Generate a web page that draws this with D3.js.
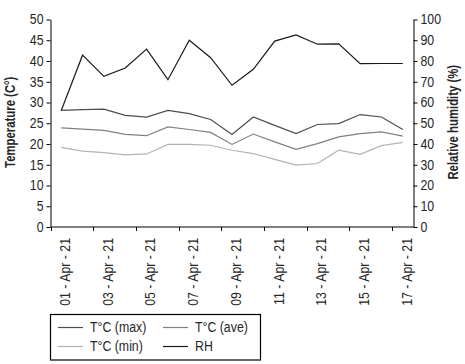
<!DOCTYPE html>
<html>
<head>
<meta charset="utf-8">
<script src="https://cdn.jsdelivr.net/npm/d3@7"></script>
<style>
  html, body { margin: 0; padding: 0; background: #fff; }
  svg text { font-family: "Liberation Sans", Arial, sans-serif; fill: #262626; }
</style>
</head>
<body>
<svg id="chart" width="465" height="364"></svg>
<script>
const dates = ["01 - Apr - 21","02 - Apr - 21","03 - Apr - 21","04 - Apr - 21","05 - Apr - 21","06 - Apr - 21",
  "07 - Apr - 21","08 - Apr - 21","09 - Apr - 21","10 - Apr - 21","11 - Apr - 21","12 - Apr - 21",
  "13 - Apr - 21","14 - Apr - 21","15 - Apr - 21","16 - Apr - 21","17 - Apr - 21"];
const tMax = [28.1, 28.3, 28.4, 26.9, 26.5, 28.1, 27.3, 25.9, 22.3, 26.5, 24.5, 22.5, 24.7, 24.9, 27.1, 26.5, 23.5];
const tAve = [23.9, 23.6, 23.3, 22.3, 22.0, 24.1, 23.5, 22.8, 19.9, 22.4, 20.5, 18.7, 20.1, 21.7, 22.5, 22.9, 21.9];
const tMin = [19.2, 18.3, 17.9, 17.4, 17.6, 19.9, 19.9, 19.7, 18.5, 17.7, 16.3, 14.9, 15.3, 18.5, 17.5, 19.6, 20.4];
const rh   = [56, 82.8, 72.6, 76.6, 85.7, 71, 90, 81.6, 68.3, 76, 89.6, 92.6, 88.1, 88.3, 78.7, 78.8, 78.8];
const tempTicks = [0, 5, 10, 15, 20, 25, 30, 35, 40, 45, 50];
const rhTicks = [0, 10, 20, 30, 40, 50, 60, 70, 80, 90, 100];
const seriesNames = ["T°C (max)", "T°C (ave)", "T°C (min)", "RH"];

(function () {
const svg = d3.select("#chart");
const pLeft = 50.5, pRight = 413.5, pTop = 19.5, pBottom = 227;

const x = d3.scaleBand().domain(dates).range([pLeft, pRight]).padding(0);
const yT = d3.scaleLinear().domain([0, 50]).range([pBottom, pTop]);
const yR = d3.scaleLinear().domain([0, 100]).range([pBottom, pTop]);
const cx = d => x(d) + x.bandwidth() / 2;

const fs = 14;

// Left axis
const gL = svg.append("g").attr("transform", `translate(${pLeft},0)`)
  .call(d3.axisLeft(yT).tickValues(tempTicks).tickSize(4).tickSizeOuter(0).tickPadding(3));
gL.selectAll("text").style("font-size", fs + "px").attr("fill", "#262626").classed("narrow", true);
gL.selectAll("line,path").attr("stroke", "#000");

// Right axis
const gR = svg.append("g").attr("transform", `translate(${pRight},0)`)
  .call(d3.axisRight(yR).tickValues(rhTicks).tickSize(4).tickSizeOuter(0).tickPadding(3));
gR.selectAll("text").style("font-size", fs + "px").attr("fill", "#262626").classed("narrow", true);
gR.selectAll("line,path").attr("stroke", "#000");

// Bottom axis
const gB = svg.append("g");
gB.append("line").attr("x1", pLeft).attr("x2", pRight).attr("y1", pBottom).attr("y2", pBottom).attr("stroke", "#000");
dates.forEach((d, i) => {
  if (i % 2 === 0) {
    gB.append("line").attr("x1", Math.round(x(d)) + 0.5).attr("x2", Math.round(x(d)) + 0.5)
      .attr("y1", pBottom).attr("y2", pBottom + 4).attr("stroke", "#000");
    gB.append("text").classed("narrow", true)
      .attr("transform", `translate(${cx(d) + 4},${pBottom + 11}) rotate(-90)`)
      .attr("text-anchor", "end").attr("dy", "0.35em")
      .style("font-size", fs + "px").attr("fill", "#262626")
      .text(d);
  }
});

// Axis titles
svg.append("text").classed("title", true).attr("transform", `translate(10,${(pTop + pBottom) / 2 - 1}) rotate(-90)`)
  .attr("text-anchor", "middle").attr("dy", "0.35em")
  .style("font-size", "14px").style("font-weight", "bold").text("Temperature (C°)");
svg.append("text").classed("title", true).attr("transform", `translate(453,${(pTop + pBottom) / 2 - 1}) rotate(-90)`)
  .attr("text-anchor", "middle").attr("dy", "0.35em")
  .style("font-size", "14px").style("font-weight", "bold").text("Relative humidity (%)");

// Lines
const colors = ["#4d4d4d", "#808080", "#b3b3b3", "#1a1a1a"];
const lineT = d3.line().x((v, i) => cx(dates[i])).y(v => yT(v));
const lineR = d3.line().x((v, i) => cx(dates[i])).y(v => yR(v));
[[tMin, 2], [tAve, 1], [tMax, 0]].forEach(([s, idx]) => {
  svg.append("path").attr("d", lineT(s)).attr("fill", "none")
    .attr("stroke", colors[idx]).attr("stroke-width", 1.2);
});
svg.append("path").attr("d", lineR(rh)).attr("fill", "none")
  .attr("stroke", colors[3]).attr("stroke-width", 1.2);

// Legend
const lg = svg.append("g");
lg.append("rect").attr("x", 50.5).attr("y", 314.5).attr("width", 210).attr("height", 45.5)
  .attr("fill", "#fff").attr("stroke", "#000").attr("stroke-width", 1.2);
const pos = [[58, 327.5], [163, 327.5], [58, 346.5], [163, 346.5]];
seriesNames.forEach((n, i) => {
  const [lx, ly] = pos[i];
  lg.append("line").attr("x1", lx).attr("x2", lx + 25).attr("y1", ly).attr("y2", ly)
    .attr("stroke", colors[i]).attr("stroke-width", 1.2);
  lg.append("text").classed("narrow", true).attr("x", lx + 32).attr("y", ly).attr("dy", "0.35em")
    .style("font-size", fs + "px").attr("fill", "#262626").text(n);
});

// Condense text to mimic a narrow typeface
svg.selectAll("text.narrow, text.title").each(function () {
  const ratio = this.classList.contains("title") ? 0.81 : 0.88;
  const L = this.getComputedTextLength();
  this.setAttribute("textLength", (L * ratio).toFixed(2));
  this.setAttribute("lengthAdjust", "spacingAndGlyphs");
});
})();
</script>
</body>
</html>
